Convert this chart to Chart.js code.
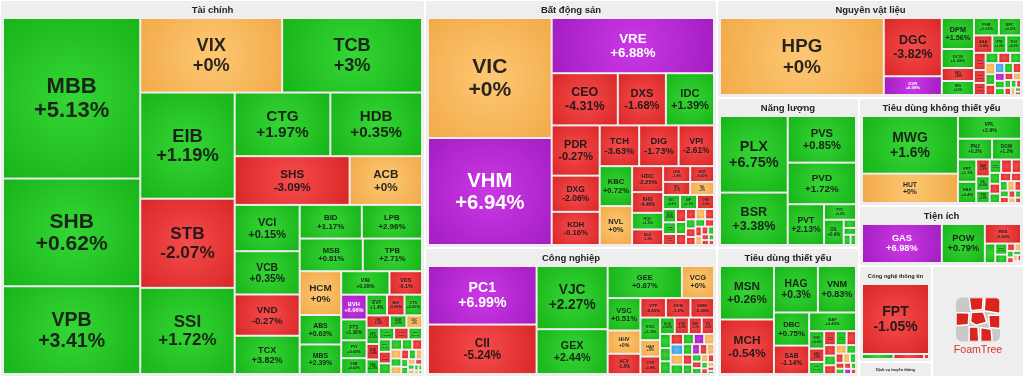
<!DOCTYPE html>
<html lang="vi">
<head>
<meta charset="utf-8">
<title>Bản đồ thị trường</title>
<script src="https://cdn.jsdelivr.net/npm/chart.js@4.4.1/dist/chart.umd.min.js"></script>
<style>
  html, body { margin: 0; padding: 0; background: #fff; }
  #wrap { width: 1024px; height: 377px; }
</style>
</head>
<body>
<div id="wrap"><canvas id="heatmap"></canvas></div>
<script>
// sectors (weight = share of the map)
const sectorNames = ['Tài chính', 'Bất động sản', 'Công nghiệp', 'Nguyên vật liệu', 'Năng lượng',
  'Tiêu dùng thiết yếu', 'Tiêu dùng không thiết yếu', 'Tiện ích', 'Công nghệ thông tin',
  'Dịch vụ truyền thông', 'FoamTree'];
const sectorWeights = [160225, 72416, 37668, 30086, 21300, 18318, 17820, 9900, 7008, 1095, 10212];

// Tài chính
const tcTickers = ['MBB', 'SHB', 'VPB', 'VIX', 'TCB', 'EIB', 'STB', 'SSI', 'CTG', 'HDB', 'SHS', 'ACB',
  'VCI', 'VCB', 'VND', 'TCX', 'BID', 'LPB', 'MSB', 'TPB', 'HCM', 'ABS', 'MBS', 'VIB', 'VDS',
  'BVH', 'FTS', 'PVI', 'SSB', 'EVF', 'BSI', 'CTS', 'ORS', 'AGR', 'OGC',
  'APS', 'BVB', 'SBS', 'VIG', 'TVB', 'BMI', 'MIG', 'PTI', 'NAB', 'KLB', 'BAB', 'SGB', 'VAB', 'PGB',
  'BVS', 'APG', 'TVS', 'IVS', 'WSS', 'HBS', 'DSC', 'VFS', 'PHS', 'EVS', 'PSI', 'AAS', 'CSI', 'TCI'];
const tcChanges = [5.13, 0.62, 3.41, 0, 3, 1.19, -2.07, 1.72, 1.97, 0.35, -3.09, 0,
  0.15, 0.35, -0.27, 3.82, 1.17, 2.96, 0.81, 2.71, 0, 0.63, 2.39, 0.28, -0.1,
  6.96, 1.38, 0.65, 0.42, 1.4, -0.89, 0.55, -1.02, 0.8, 0,
  0.52, -0.68, 1.05, 0.33, -1.2, 0.74, 0.4, -0.45, 2.1, 0.9, 0.27, -0.83, 0, 1.6,
  0, -0.5, 0.6, 0, 1.2, 0.8, 0, -1.1, 0.35, 0, 0.9, 0.5, 0, 0.7];
const tcWeights = [21896, 14688, 11968, 10508, 10360, 9964, 8366, 8084, 6048, 5796, 5568, 3504,
  2990, 2795, 2665, 2470, 2079, 2013, 2048, 1920, 1806, 1218, 1218, 1127, 759,
  625, 525, 450, 400, 420, 360, 360, 288, 204, 192,
  200, 190, 180, 175, 165, 155, 145, 135, 125, 115, 105, 100, 92, 85,
  78, 72, 65, 58, 52, 46, 40, 36, 32, 28, 24, 20, 16, 12];

// Bất động sản
const bdsTickers = ['VIC', 'VHM', 'VRE', 'CEO', 'DXS', 'IDC', 'PDR', 'DXG', 'KDH', 'TCH', 'DIG', 'VPI',
  'KBC', 'NVL', 'HDC', 'KHG', 'HQC', 'NLG', 'LHG', 'SCR', 'NTL', 'TAL', 'SZC', 'SIP', 'CRE',
  'QCG', 'NBB', 'HDG', 'ITC', 'LDG', 'DPG', 'VPH', 'HPX', 'AGG', 'TDC', 'IJC', 'HAR', 'D2D',
  'NTC', 'BCM', 'SGR', 'KOS', 'DRH', 'TIG', 'API', 'CKG', 'FIR'];
const bdsChanges = [0, 6.94, 6.88, -4.31, -1.68, 1.39, -0.27, -2.06, -0.16, -3.63, -1.73, -2.61,
  0.72, 0, -2.25, -4.48, 1.3, -1.2, -1.4, -0.61, -0.7, 0, 0.9, 1.1, -1.5,
  0.8, 1.2, -1.1, -0.9, 0.5, -2.1, -0.7, 0, -1.4, 0.6, -0.8, -1.9, 0.4,
  -0.5, -1.3, 0, -0.6, 0.9, -1.7, -0.4, 0.3, -0.9];
const bdsWeights = [14760, 13161, 8910, 3432, 2496, 2496, 2400, 1728, 1584, 1599, 1599, 1435,
  1287, 1254, 800, 640, 512, 480, 425, 374, 350, 308, 238, 238, 238,
  170, 150, 140, 130, 120, 110, 100, 95, 90, 85, 80, 75, 70,
  65, 60, 55, 50, 45, 40, 35, 30, 25];

// Công nghiệp
const cnTickers = ['PC1', 'CII', 'VJC', 'GEX', 'GEE', 'VCG', 'VSC', 'HHV', 'ACV', 'VTP', 'HVN', 'GMD',
  'VGC', 'HAH', 'CTD',
  'SCS', 'VOS', 'PHP', 'TV2', 'SGP', 'LCG', 'FCN', 'C4G', 'TCD', 'VNE', 'HTN', 'PAP', 'TMS', 'MVN',
  'SKG', 'DVP', 'VTO', 'CDC', 'PTC', 'SAM', 'VEA', 'ACC', 'HUB', 'TCL', 'SRF', 'DHA', 'VSA', 'HTV',
  'GSP', 'PDN'];
const cnChanges = [6.99, -5.24, 2.27, 2.44, 0.87, 0, 0.51, 0, -1.8, -0.85, -1.2, -0.25,
  1.2, 0, -0.8,
  0.6, -0.9, -1.3, -0.5, 1.1, 0.4, 0.8, -0.7, -6.9, 0, 0.5, 1.4, 6.9, 0,
  0.3, -1.1, 0.7, 6.95, -0.6, 0, 0.9, -1.5, 0.2, 0, -0.8, 0.6, -0.4, 0,
  -1.2, 0.5];
const cnWeights = [6322, 5341, 4464, 3168, 2368, 1024, 1056, 759, 660, 494, 475, 456,
  440, 320, 340,
  240, 230, 210, 200, 150, 140, 135, 130, 125, 120, 115, 110, 105, 100,
  95, 90, 85, 80, 75, 70, 65, 60, 55, 50, 45, 40, 35, 30,
  25, 20];

// Nguyên vật liệu
const nvlTickers = ['HPG', 'DGC', 'GVR', 'DPM', 'DCM', 'NKG', 'HSG', 'PHR', 'BFC', 'AAA', 'PTB', 'TLH',
  'MSR', 'DPR', 'CSV', 'HT1', 'BCC', 'DHC', 'KSB', 'TVN', 'SMC', 'POM', 'VGS', 'TNI',
  'DRC', 'LAS', 'NTP', 'HHP', 'APH', 'TDP', 'SVI', 'CRC', 'SFG', 'VFG', 'ABT', 'BMP'];
const nvlChanges = [0, -3.82, 6.98, 1.56, 0.29, -1.48, 0.2, 1.01, 0.5, -0.8, 1.2, 0.9,
  -1.8, -0.7, -1.1, 0.5, -2.3, 0.8, 0, 0.4, -0.9, -6.9, 1.2, -0.6,
  6.9, 0.3, 0.7, -1.4, 0, 0.6, -0.5, 0.9, -0.8, 0, 0.4, -1.0];
const nvlWeights = [12558, 3363, 1083, 992, 608, 416, 448, 432, 384, 320, 240, 256,
  200, 150, 140, 130, 120, 110, 105, 100, 95, 90, 85, 80,
  75, 70, 65, 60, 55, 50, 45, 40, 35, 30, 25, 20];

// Năng lượng
const nlTickers = ['PLX', 'BSR', 'PVS', 'PVD', 'PVT', 'PVC', 'OIL', 'PVB', 'CNG', 'PGC', 'PSH'];
const nlChanges = [6.75, 3.38, 0.85, 1.72, 2.13, 0.5, 0.9, 0.6, 1.1, 0.4, 0.3];
const nlWeights = [5168, 3536, 3174, 2829, 1476, 495, 494, 100, 85, 70, 55];

// Tiêu dùng thiết yếu
const tdtyTickers = ['MSN', 'MCH', 'HAG', 'VNM', 'DBC', 'SAB', 'BAF',
  'VHC', 'ANV', 'KDC', 'QNS', 'PAN', 'SBT', 'MML', 'HNG', 'LSS', 'MCM',
  'VLC', 'SLS', 'IDI', 'ASM', 'TAR', 'CMX', 'FMC', 'NAF', 'SEA', 'LTG'];
const tdtyChanges = [0.26, -0.54, 0.3, 0.83, 0.75, -1.14, 0.45,
  0.6, -0.8, 0.4, -0.5, 1.2, -0.3, -1.1, 0.7, -0.9, 0,
  0.5, -0.6, 0, 0.3, -1.4, 0.8, -0.4, 6.9, 0.2, -0.7];
const tdtyWeights = [2862, 2915, 2025, 1755, 1155, 990, 867,
  260, 200, 180, 160, 150, 130, 120, 110, 100, 90,
  80, 70, 60, 55, 50, 45, 40, 35, 30, 25];

// Tiêu dùng không thiết yếu
const tdktyTickers = ['MWG', 'HUT', 'VPL', 'PNJ', 'DGW', 'FRT', 'HAX',
  'DAH', 'GIL', 'TCM', 'MSH', 'STK', 'TNG', 'SVC', 'HTM', 'CTF', 'AST',
  'EVE', 'TTF', 'PET', 'VGT', 'HHS', 'HAP', 'SAV', 'GDT', 'CSM', 'SRC'];
const tdktyChanges = [1.6, 0, 2.9, 0.2, 1.2, 1.1, 0.4,
  -0.9, 0.6, 0.8, 0.3, -0.5, -1.2, 0.4, -0.7, 1.1, -0.3,
  -0.8, 0.5, 0, -1.4, 0.2, -0.6, -0.9, 0.7, 0, -0.4];
const tdktyWeights = [5415, 2755, 1403, 693, 588, 399, 380,
  220, 190, 160, 150, 140, 120, 110, 100, 95, 90,
  80, 70, 65, 60, 55, 50, 45, 40, 35, 30];

// Tiện ích
const tiTickers = ['GAS', 'POW', 'REE', 'NT2', 'BWE', 'TDM', 'PGV', 'GEG', 'VSH', 'SBA', 'PPC', 'HND', 'KHP', 'TTA'];
const tiChanges = [6.98, 0.79, -0.39, 0.7, 0.5, 0.9, -0.4, 0, 0.6, -0.8, 0.3, 0, -0.5, 0.4];
const tiWeights = [3080, 1660, 700, 200, 130, 100, 55, 45, 40, 35, 30, 25, 20, 15];

// Công nghệ thông tin
const cnttTickers = ['FPT', 'CMG', 'ELC', 'ITD'];
const cnttChanges = [-1.05, 0.8, -0.5, -0.7];
const cnttWeights = [4620, 155, 150, 25];

// ---- layout hints: strips (c = column on the left, r = row on top, n = tiles in it) ----
const sectorStrips = ['c1', 'c2', 'r1', 'c2', 'r1', 'r1', 'c2', 'c1'];
const tileGroups = [
  { t: tcTickers, c: tcChanges, w: tcWeights, s: ['c3', 'r2', 'c3', 'r2', 'r2', 'c4', 'r2', 'r2', 'c3', 'r2', 'c4', 'r3', 'r3'] },
  { t: bdsTickers, c: bdsChanges, w: bdsWeights, s: ['c2', 'r1', 'r3', 'c3', 'r3', 'c2', 'c4', 'r2', 'r2', 'r3'] },
  { t: cnTickers, c: cnChanges, w: cnWeights, s: ['c2', 'c2', 'r2', 'c3', 'r3', 'c3'] },
  { t: nvlTickers, c: nvlChanges, w: nvlWeights, s: ['c1', 'c2', 'c4', 'r2', 'r3'] },
  { t: nlTickers, c: nlChanges, w: nlWeights, s: ['c2', 'r1', 'r1', 'c1', 'r1', 'c1'] },
  { t: tdtyTickers, c: tdtyChanges, w: tdtyWeights, s: ['c2', 'r2', 'c2', 'r1'] },
  { t: tdktyTickers, c: tdktyChanges, w: tdktyWeights, s: ['c2', 'r1', 'r2', 'c2'] },
  { t: tiTickers, c: tiChanges, w: tiWeights, s: ['c1', 'c1', 'r1'] },
  { t: cnttTickers, c: cnttChanges, w: cnttWeights, s: ['r1', 'c1', 'c1', 'c1'] },
  null,
  'logo'
];

const W = 1024, H = 377;
const FONT = '"Liberation Sans", Arial, sans-serif';

// squarified treemap; the first strips follow the hints, the rest is automatic
function layout(rect, weights, strips) {
  const total = weights.reduce((a, b) => a + b, 0);
  const k = rect.w * rect.h / total;
  const areas = weights.map(v => v * k);
  const out = [];
  const r = { x: rect.x, y: rect.y, w: rect.w, h: rect.h };
  let i = 0;

  const place = (list, vertical) => {
    const sum = list.reduce((a, j) => a + areas[j], 0);
    if (vertical) {
      const sw = sum / r.h;
      let y = r.y;
      list.forEach(j => { const h = areas[j] / sw; out[j] = { x: r.x, y: y, w: sw, h: h }; y += h; });
      r.x += sw; r.w -= sw;
    } else {
      const sh = sum / r.w;
      let x = r.x;
      list.forEach(j => { const w = areas[j] / sh; out[j] = { x: x, y: r.y, w: w, h: sh }; x += w; });
      r.y += sh; r.h -= sh;
    }
  };

  (strips || []).forEach(s => {
    const n = parseInt(s.slice(1));
    const list = [];
    for (let c = 0; c < n && i < areas.length; c++) list.push(i++);
    if (list.length) place(list, s[0] === 'c');
  });

  const worst = (list, side) => {
    const s = list.reduce((a, j) => a + areas[j], 0);
    let mx = 0, mn = Infinity;
    list.forEach(j => { mx = Math.max(mx, areas[j]); mn = Math.min(mn, areas[j]); });
    return Math.max(side * side * mx / (s * s), (s * s) / (side * side * mn));
  };
  while (i < areas.length) {
    const side = Math.min(r.w, r.h);
    const row = [i++];
    while (i < areas.length && worst(row.concat(i), side) <= worst(row, side)) row.push(i++);
    place(row, r.w >= r.h);
  }
  return out;
}

function palette(v) {
  if (v >= 6.85) return ['#cb38e6', '#a31ec1'];
  if (v <= -6.85) return ['#62bdf7', '#3a95df'];
  if (v > 0) return ['#36d636', '#18b418'];
  if (v < 0) return ['#f64c4c', '#da2727'];
  return ['#fdc874', '#f2aa48'];
}

function fmt(v) {
  return (v < 0 ? '-' : '+') + Math.abs(v) + '%';
}

function drawTile(ctx, x, y, w, h, ticker, change) {
  if (w <= 0.4 || h <= 0.4) return;
  const cx = x + w / 2, cy = y + h / 2;
  const pal = palette(change);
  const g = ctx.createRadialGradient(cx, cy, 0, cx, cy, Math.hypot(w, h) / 2);
  g.addColorStop(0, pal[0]);
  g.addColorStop(1, pal[1]);
  ctx.fillStyle = g;
  ctx.fillRect(x, y, w, h);

  const pct = fmt(change);
  let fs = Math.min(22, 0.74 * Math.pow(w * h, 0.35), 0.25 * Math.min(w, h));
  ctx.font = `bold ${fs}px ${FONT}`;
  const tw = Math.max(ctx.measureText(ticker).width, ctx.measureText(pct).width);
  if (tw > w * 0.88) fs *= w * 0.88 / tw;
  if (fs < 2.2) return;
  ctx.font = `bold ${fs}px ${FONT}`;
  ctx.fillStyle = change >= 6.85 ? '#ffffff' : 'rgba(22,22,22,0.92)';
  ctx.textAlign = 'center';
  ctx.textBaseline = 'middle';
  ctx.fillText(ticker, cx, cy - fs * 0.5);
  ctx.fillText(pct, cx, cy + fs * 0.58);
}

function roundRect(ctx, x, y, w, h, r) {
  ctx.beginPath();
  ctx.moveTo(x + r, y);
  ctx.arcTo(x + w, y, x + w, y + h, r);
  ctx.arcTo(x + w, y + h, x, y + h, r);
  ctx.arcTo(x, y + h, x, y, r);
  ctx.arcTo(x, y, x + w, y, r);
  ctx.closePath();
}

function drawLogo(ctx, p) {
  const size = Math.min(p.w, p.h) * 0.49;
  const lx = p.x + p.w / 2 - size / 2, ly = p.y + p.h * 0.28;
  ctx.save();
  roundRect(ctx, lx, ly, size, size, size * 0.14);
  ctx.fillStyle = '#c9c9c9';
  ctx.fill();
  ctx.clip();
  const cells = [
    [[0.3, 0.0], [0.62, 0.0], [0.6, 0.27], [0.34, 0.3]],
    [[0.66, 0.0], [1.0, 0.0], [1.0, 0.36], [0.64, 0.3]],
    [[0.0, 0.34], [0.3, 0.35], [0.28, 0.62], [0.0, 0.64]],
    [[0.35, 0.34], [0.62, 0.32], [0.7, 0.56], [0.46, 0.63], [0.33, 0.55]],
    [[0.74, 0.4], [1.0, 0.4], [1.0, 0.7], [0.76, 0.68]],
    [[0.3, 0.67], [0.5, 0.67], [0.52, 1.0], [0.3, 1.0]],
    [[0.56, 0.68], [0.8, 0.72], [0.82, 1.0], [0.56, 1.0]]
  ];
  ctx.strokeStyle = '#ffffff';
  ctx.lineWidth = 1.5;
  cells.forEach(c => {
    ctx.beginPath();
    c.forEach((pt, j) => {
      const X = lx + pt[0] * size, Y = ly + pt[1] * size;
      if (j === 0) ctx.moveTo(X, Y); else ctx.lineTo(X, Y);
    });
    ctx.closePath();
    ctx.fillStyle = '#d8261f';
    ctx.fill();
    ctx.stroke();
  });
  ctx.restore();
  ctx.fillStyle = '#d8312b';
  ctx.font = `${size * 0.24}px ${FONT}`;
  ctx.textAlign = 'center';
  ctx.textBaseline = 'middle';
  ctx.fillText('FoamTree', lx + size / 2, ly + size + size * 0.2);
}

const treemapPlugin = {
  id: 'treemap',
  afterDraw(chart) {
    const ctx = chart.ctx;
    const xs = chart.scales.x, ys = chart.scales.y;
    const toPx = r => {
      const x0 = xs.getPixelForValue(r.x), x1 = xs.getPixelForValue(r.x + r.w);
      const y0 = ys.getPixelForValue(r.y), y1 = ys.getPixelForValue(r.y + r.h);
      return { x: x0, y: Math.min(y0, y1), w: x1 - x0, h: Math.abs(y1 - y0) };
    };

    const sectors = layout({ x: 0, y: 0, w: W, h: H }, sectorWeights, sectorStrips);
    sectors.forEach((sr, si) => {
      const panel = { x: sr.x + 1, y: sr.y + 1, w: sr.w - 2, h: sr.h - 2 };
      const pp = toPx(panel);
      ctx.save();
      roundRect(ctx, pp.x, pp.y, pp.w, pp.h, 2);
      ctx.fillStyle = '#eeeeee';
      ctx.fill();
      ctx.restore();

      const grp = tileGroups[si];
      if (grp === 'logo') { drawLogo(ctx, pp); return; }

      // title
      ctx.font = `bold 1px ${FONT}`;
      const unit = ctx.measureText(sectorNames[si]).width;
      let tfs = Math.min(9.5, pp.w * 0.78 / unit);
      if (!grp) tfs = Math.min(tfs, pp.h * 0.3);
      ctx.font = `bold ${tfs}px ${FONT}`;
      ctx.fillStyle = '#222222';
      ctx.textAlign = 'center';
      ctx.textBaseline = 'middle';
      ctx.fillText(sectorNames[si], pp.x + pp.w / 2, grp ? pp.y + 9.5 : pp.y + pp.h / 2);
      if (!grp) return;

      const content = { x: panel.x + 2, y: panel.y + 17, w: panel.w - 4, h: panel.h - 19 };
      const rects = layout(content, grp.w, grp.s);
      rects.forEach((r, j) => {
        const p = toPx(r);
        drawTile(ctx, p.x + 1, p.y + 1, p.w - 2, p.h - 2, grp.t[j], grp.c[j]);
      });
    });
  }
};

new Chart(document.getElementById('heatmap'), {
  type: 'scatter',
  data: { datasets: [{ data: [], pointRadius: 0 }] },
  options: {
    responsive: true,
    maintainAspectRatio: false,
    animation: false,
    layout: { padding: 0 },
    plugins: { legend: { display: false }, tooltip: { enabled: false } },
    scales: {
      x: { type: 'linear', min: 0, max: W, display: false },
      y: { type: 'linear', min: 0, max: H, reverse: true, display: false }
    }
  },
  plugins: [treemapPlugin]
});
</script>
</body>
</html>
